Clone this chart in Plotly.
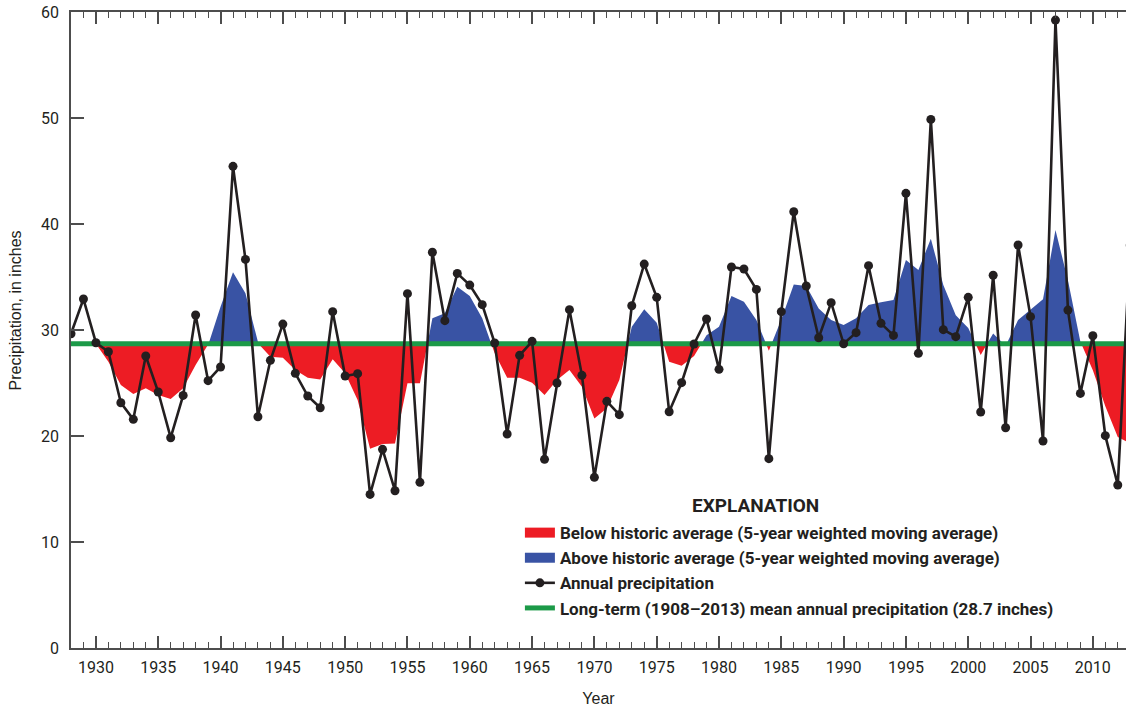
import plotly.graph_objects as go

# ---------------- data ----------------
years = list(range(1928, 2014))
annual_precip = [29.65, 32.92, 28.8, 27.95, 23.14, 21.57, 27.55, 24.15, 19.84, 23.83,
                 31.41, 25.22, 26.51, 45.44, 36.66, 21.82, 27.14, 30.56, 25.91, 23.77,
                 22.67, 31.73, 25.66, 25.88, 14.49, 18.74, 14.84, 33.43, 15.63, 37.33,
                 30.88, 35.34, 34.24, 32.39, 28.77, 20.19, 27.61, 28.93, 17.8, 25.0,
                 31.92, 25.72, 16.1, 23.27, 22.01, 32.29, 36.22, 33.08, 22.29, 25.03,
                 28.68, 31.04, 26.29, 35.94, 35.75, 33.83, 17.86, 31.73, 41.16, 34.15,
                 29.27, 32.58, 28.7, 29.75, 36.07, 30.63, 29.49, 42.89, 27.8, 49.87,
                 30.03, 29.37, 33.08, 22.26, 35.16, 20.78, 38.02, 31.26, 19.53, 59.24,
                 31.88, 24.02, 29.46, 20.03, 15.38, 38.0]

ma_years = list(range(1930, 2014))
weighted_ma = [28.7, 27.0, 24.8, 23.96, 24.5, 23.87, 23.49, 24.5, 26.7, 28.55,
               32.2, 35.44, 33.46, 28.75, 27.48, 27.39, 26.22, 25.5, 25.34, 27.23,
               25.91, 23.4, 18.8, 19.24, 19.3, 24.97, 24.97, 31.1, 31.57, 34.09,
               33.2, 31.1, 27.8, 25.5, 25.5, 25.03, 23.87, 25.28, 26.22, 24.65,
               21.66, 22.61, 25.28, 30.31, 31.95, 30.69, 27.0, 26.63, 27.55, 29.5,
               30.3, 33.2, 32.67, 30.94, 28.05, 31.0, 34.3, 34.15, 32.04, 30.94,
               30.47, 31.1, 32.36, 32.61, 32.83, 36.6, 35.66, 38.6, 34.24, 31.4,
               30.2, 27.64, 29.68, 28.5, 30.94, 31.88, 32.89, 39.43, 34.7, 28.9,
               26.2, 22.8, 19.9, 19.3]

long_term_mean = 28.7
x_ticks = list(range(1930, 2011, 5))
y_ticks = list(range(0, 61, 10))

# ---------------- colours / fonts ----------------
RED = "#ed1c24"
BLUE = "#3953a4"
GREEN = "#1c9a48"
BLACK = "#231f20"
AXIS = "#4d4d4d"
NARROW = "Roboto, Liberation Sans, sans-serif"
REGULAR = "Liberation Sans, Arial, sans-serif"

# insert crossing points of the moving average with the mean, for the split fill
xs, ms = [], []
for i in range(len(ma_years)):
    xs.append(ma_years[i]); ms.append(weighted_ma[i])
    if i + 1 < len(ma_years):
        a, b = weighted_ma[i] - long_term_mean, weighted_ma[i + 1] - long_term_mean
        if a * b < 0:
            t = a / (a - b)
            xs.append(ma_years[i] + t); ms.append(long_term_mean)
upper = [max(m, long_term_mean) for m in ms]
lower = [min(m, long_term_mean) for m in ms]
base = [long_term_mean] * len(xs)

BELOW = "Below historic average (5-year weighted moving average)"
ABOVE = "Above historic average (5-year weighted moving average)"

fig = go.Figure()
fig.add_trace(go.Scatter(x=xs, y=base, mode="lines", line=dict(width=0),
                         showlegend=False, hoverinfo="skip"))
fig.add_trace(go.Scatter(x=xs, y=lower, mode="lines", line=dict(width=0),
                         fill="tonexty", fillcolor=RED, showlegend=False,
                         legendgroup="below", name=BELOW))
fig.add_trace(go.Scatter(x=xs, y=base, mode="lines", line=dict(width=0),
                         showlegend=False, hoverinfo="skip"))
fig.add_trace(go.Scatter(x=xs, y=upper, mode="lines", line=dict(width=0),
                         fill="tonexty", fillcolor=BLUE, showlegend=False,
                         legendgroup="above", name=ABOVE))
fig.add_trace(go.Scatter(x=[years[0] - 1, years[-1] + 1], y=[long_term_mean] * 2,
                         mode="lines", line=dict(color=GREEN, width=5), legendrank=4,
                         legendgroup="mean",
                         name="Long-term (1908\u20132013) mean annual precipitation (28.7 inches)"))
fig.add_trace(go.Scatter(x=years, y=annual_precip, mode="lines+markers",
                         line=dict(color=BLACK, width=2.6),
                         marker=dict(color=BLACK, size=9), legendrank=3,
                         legendgroup="annual", name="Annual precipitation"))
# legend keys for the two filled areas
fig.add_trace(go.Scatter(x=[None], y=[None], mode="lines", line=dict(color=RED, width=18),
                         legendrank=1, legendgroup="below", name=BELOW))
fig.add_trace(go.Scatter(x=[None], y=[None], mode="lines", line=dict(color=BLUE, width=18),
                         legendrank=2, legendgroup="above", name=ABOVE))

fig.update_layout(
    width=1126, height=712,
    margin=dict(l=71, r=0, t=12, b=64),
    paper_bgcolor="white", plot_bgcolor="white",
    font=dict(family=NARROW, color="#231f20", size=16),
    xaxis=dict(range=[1928, 2012.66], tickvals=x_ticks, ticks="inside", ticklen=12,
               tickwidth=1.5, tickcolor=AXIS, showline=True, linecolor=AXIS, linewidth=1.5,
               mirror="ticks", showgrid=False, zeroline=False, ticklabelstandoff=4,
               ticklabeloverflow="allow",
               minor=dict(dtick=1, ticks="inside", ticklen=6, tickwidth=1.2, tickcolor=AXIS),
               tickfont=dict(family=NARROW, size=16, color="#231f20"),
               title=dict(text="Year", font=dict(family=REGULAR, size=16), standoff=17)),
    yaxis=dict(range=[0, 60], tickvals=y_ticks, ticks="inside", ticklen=13, tickwidth=1.5,
               tickcolor=AXIS, showline=True, linecolor=AXIS, linewidth=1.5,
               showgrid=False, zeroline=False, ticklabelstandoff=7,
               ticklabeloverflow="allow",
               tickfont=dict(family=NARROW, size=16, color="#231f20")),
    yaxis2=dict(range=[0, 60], tickvals=y_ticks, ticks="inside", ticklen=9, tickwidth=1.5,
                tickcolor=AXIS, overlaying="y", side="right", showline=False,
                showgrid=False, zeroline=False, showticklabels=False),
    legend=dict(x=0.4255, y=0.209, xanchor="left", yanchor="top", traceorder="normal",
                tracegroupgap=3.8, bgcolor="rgba(0,0,0,0)",
                font=dict(family=NARROW, size=17, weight="bold", color="#231f20")),
    annotations=[
        dict(text="Precipitation, in inches", textangle=-90, showarrow=False,
             xref="paper", yref="paper", x=(15.5 - 71) / 1055,
             y=(648 - 311) / 636, xanchor="center", yanchor="middle",
             font=dict(family=REGULAR, size=16, color="#231f20")),
        dict(text="EXPLANATION", showarrow=False, xref="paper", yref="paper",
             x=(755 - 71) / 1055, y=(648 - 505) / 636, xanchor="center", yanchor="middle",
             font=dict(family=NARROW, size=19, weight="bold", color="#231f20")),
    ],
)

fig.write_html("out.html", config={"displayModeBar": False},
               post_script="document.body.style.margin='0px';")
